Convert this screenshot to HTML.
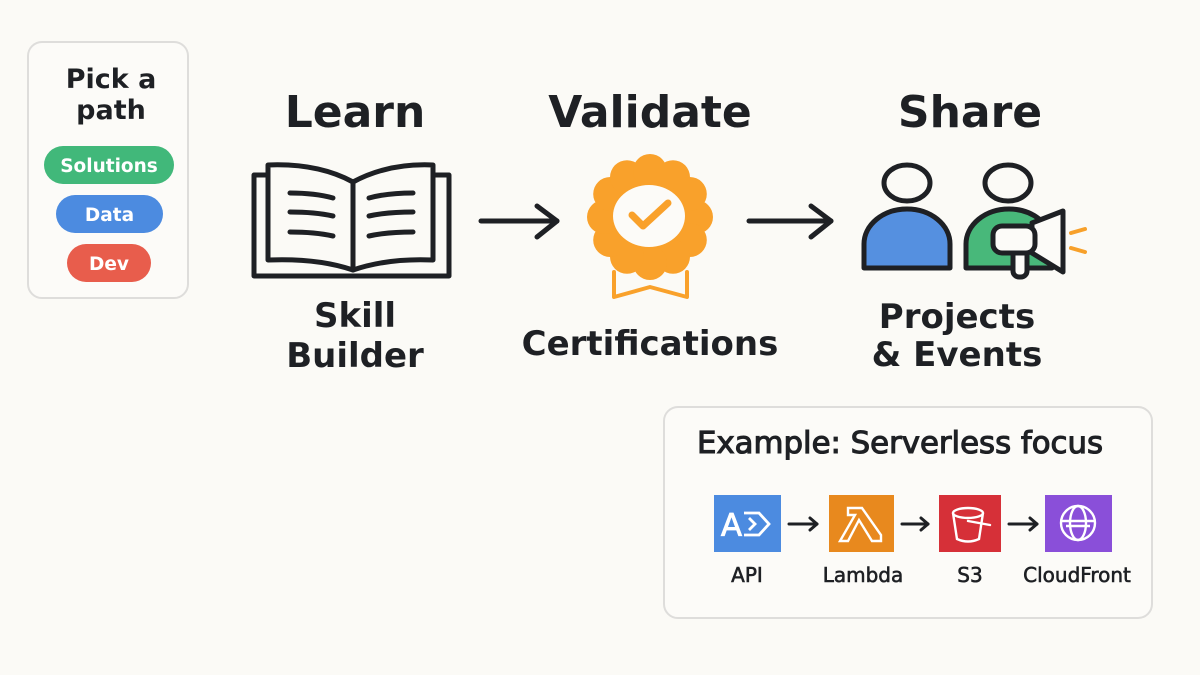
<!DOCTYPE html>
<html>
<head>
<meta charset="utf-8">
<style>
  html,body{margin:0;padding:0;background:#fbfaf6;}
  svg{display:block;}
  text{font-family:"DejaVu Sans","Liberation Sans",sans-serif;fill:#1e2024;}
  .b{font-weight:bold;}
</style>
</head>
<body>
<svg width="1200" height="675" viewBox="0 0 1200 675" xmlns="http://www.w3.org/2000/svg">
  <rect x="0" y="0" width="1200" height="675" fill="#fbfaf6"/>

  <!-- Left card -->
  <rect x="28" y="42" width="160" height="256" rx="14" fill="#fcfbf8" stroke="#dedddb" stroke-width="2"/>
  <text x="111" y="88" font-size="27" class="b" text-anchor="middle">Pick a</text>
  <text x="111" y="119" font-size="27" class="b" text-anchor="middle">path</text>
  <rect x="44" y="146" width="130" height="38" rx="19" fill="#41b87a"/>
  <text x="109" y="172" font-size="18.5" class="b" text-anchor="middle" style="fill:#fff">Solutions</text>
  <rect x="56" y="195" width="107" height="38" rx="19" fill="#4c8be0"/>
  <text x="109.5" y="221" font-size="18.5" class="b" text-anchor="middle" style="fill:#fff">Data</text>
  <rect x="67" y="244" width="84" height="38" rx="19" fill="#e85d4c"/>
  <text x="109" y="270" font-size="18.5" class="b" text-anchor="middle" style="fill:#fff">Dev</text>

  <!-- Headings -->
  <text x="355" y="127" font-size="44" class="b" text-anchor="middle">Learn</text>
  <text x="650" y="127" font-size="44" class="b" text-anchor="middle">Validate</text>
  <text x="970" y="127" font-size="44" class="b" text-anchor="middle">Share</text>

  <!-- Book -->
  <g fill="none" stroke="#1e2024" stroke-width="5" stroke-linejoin="round" stroke-linecap="round">
    <path d="M268,175 H254 V276 H449 V175 H433"/>
    <path d="M353,182 Q318,163 268,165 V260 Q318,258 353,270 Z" fill="#fbfaf6"/>
    <path d="M353,182 Q388,163 433,165 V260 Q388,258 353,270 Z" fill="#fbfaf6"/>
    <line x1="353" y1="182" x2="353" y2="270"/>
    <path d="M290,193 Q315,193 333,198"/>
    <path d="M290,212 Q315,212 333,216"/>
    <path d="M290,232 Q315,232 333,236"/>
    <path d="M369,198 Q387,193 413,193"/>
    <path d="M369,216 Q387,212 413,212"/>
    <path d="M369,236 Q387,232 413,232"/>
  </g>

  <!-- Arrow 1 -->
  <g fill="none" stroke="#1e2024" stroke-width="5" stroke-linecap="round" stroke-linejoin="round">
    <line x1="481" y1="221" x2="557" y2="221"/>
    <polyline points="537,206 557,221 537,237"/>
  </g>

  <!-- Badge -->
  <g fill="#f9a12b">
    <circle cx="650" cy="217" r="52"/>
    <circle cx="696" cy="217" r="17"/>
    <circle cx="689.8" cy="240" r="17"/>
    <circle cx="673" cy="256.8" r="17"/>
    <circle cx="650" cy="263" r="17"/>
    <circle cx="627" cy="256.8" r="17"/>
    <circle cx="610.2" cy="240" r="17"/>
    <circle cx="604" cy="217" r="17"/>
    <circle cx="610.2" cy="194" r="17"/>
    <circle cx="627" cy="177.2" r="17"/>
    <circle cx="650" cy="171" r="17"/>
    <circle cx="673" cy="177.2" r="17"/>
    <circle cx="689.8" cy="194" r="17"/>
  </g>
  <ellipse cx="649" cy="216" rx="36" ry="31" fill="#fcfbf8"/>
  <polyline points="632,215 643,226 668,203" fill="none" stroke="#f9a12b" stroke-width="7" stroke-linecap="round" stroke-linejoin="round"/>
  <path d="M614,272 V297 L650,287 L687,297 V272" fill="none" stroke="#f9a12b" stroke-width="4" stroke-linejoin="round" stroke-linecap="round"/>

  <!-- Arrow 2 -->
  <g fill="none" stroke="#1e2024" stroke-width="5" stroke-linecap="round" stroke-linejoin="round">
    <line x1="749" y1="221" x2="831" y2="221"/>
    <polyline points="811,206 831,221 811,237"/>
  </g>

  <!-- People -->
  <g stroke="#1e2024" stroke-width="5" stroke-linejoin="round">
    <ellipse cx="907" cy="183" rx="23" ry="18" fill="none"/>
    <path d="M864,268 V244 A43,35 0 0 1 950,244 V268 Z" fill="#5590e0"/>
    <ellipse cx="1008" cy="183" rx="23" ry="18" fill="none"/>
    <path d="M966,268 V244 A43,35 0 0 1 1052,244 V268 Z" fill="#48b87a"/>
    <rect x="1013" y="248" width="14" height="29" rx="6" fill="#fcfbf8"/>
    <polygon points="1032,223 1063,211 1063,272 1032,253" fill="#fcfbf8"/>
    <rect x="993" y="226" width="42" height="27" rx="9" fill="#fcfbf8"/>
  </g>
  <g stroke="#f7a02a" stroke-width="4" stroke-linecap="round">
    <line x1="1071" y1="233" x2="1085" y2="229"/>
    <line x1="1071" y1="248" x2="1085" y2="252"/>
  </g>

  <!-- Sub labels -->
  <text x="355" y="327" font-size="34" class="b" text-anchor="middle">Skill</text>
  <text x="355" y="367" font-size="34" class="b" text-anchor="middle">Builder</text>
  <text x="650" y="355" font-size="34" class="b" text-anchor="middle">Certifications</text>
  <text x="957" y="328" font-size="34" class="b" text-anchor="middle">Projects</text>
  <text x="957" y="366" font-size="34" class="b" text-anchor="middle">&amp; Events</text>

  <!-- Example box -->
  <rect x="664" y="407" width="488" height="211" rx="14" fill="#fcfbf8" stroke="#dedddb" stroke-width="2"/>
  <text x="697" y="453" font-size="30" style="stroke:#1e2024;stroke-width:1.1px" textLength="406" lengthAdjust="spacingAndGlyphs">Example: Serverless focus</text>

  <!-- API -->
  <rect x="714" y="495" width="67" height="57" fill="#4c8be0"/>
  <text x="731.5" y="536" font-size="31" text-anchor="middle" style="fill:#fff;stroke:#fff;stroke-width:0.8px">A</text>
  <path d="M744,513 H759 L769,524 L759,535 H744 M749,518 L755,524 L749,530" fill="none" stroke="#fff" stroke-width="2.8" stroke-linejoin="miter"/>

  <!-- Lambda -->
  <rect x="829" y="495" width="65" height="57" fill="#e8891e"/>
  <path d="M848,508 L862,508 L881,535 L881,541 L872,541 L859,520 L848,541 L840,541 L855,515 L848,515 Z" fill="none" stroke="#fff" stroke-width="2.4" stroke-linejoin="miter"/>

  <!-- S3 -->
  <rect x="939" y="495" width="62" height="57" fill="#d63038"/>
  <g fill="none" stroke="#fff" stroke-width="2.4" stroke-linecap="round">
    <ellipse cx="968" cy="513" rx="15" ry="5"/>
    <path d="M953,513 L957,539 Q968,544 979,539 L983,513"/>
    <path d="M968,521 L990,525"/>
  </g>

  <!-- CloudFront -->
  <rect x="1045" y="495" width="67" height="57" fill="#8a4fd9"/>
  <g fill="none" stroke="#fff" stroke-width="2.4">
    <circle cx="1078" cy="523" r="17"/>
    <ellipse cx="1078" cy="523" rx="8" ry="17"/>
    <line x1="1061" y1="521" x2="1095" y2="521"/>
    <line x1="1066" y1="526" x2="1090" y2="526"/>
  </g>

  <!-- small arrows -->
  <g fill="none" stroke="#1e2024" stroke-width="3" stroke-linecap="round" stroke-linejoin="round">
    <line x1="789" y1="524" x2="817" y2="524"/><polyline points="810,518 817,524 810,530"/>
    <line x1="902" y1="524" x2="928" y2="524"/><polyline points="921,518 928,524 921,530"/>
    <line x1="1009" y1="524" x2="1037" y2="524"/><polyline points="1030,518 1037,524 1030,530"/>
  </g>

  <text x="747" y="582" font-size="20" text-anchor="middle" style="stroke:#1e2024;stroke-width:0.6px">API</text>
  <text x="863" y="582" font-size="20" text-anchor="middle" style="stroke:#1e2024;stroke-width:0.6px">Lambda</text>
  <text x="970" y="582" font-size="20" text-anchor="middle" style="stroke:#1e2024;stroke-width:0.6px">S3</text>
  <text x="1077" y="582" font-size="20" text-anchor="middle" style="stroke:#1e2024;stroke-width:0.6px">CloudFront</text>
</svg>
</body>
</html>
